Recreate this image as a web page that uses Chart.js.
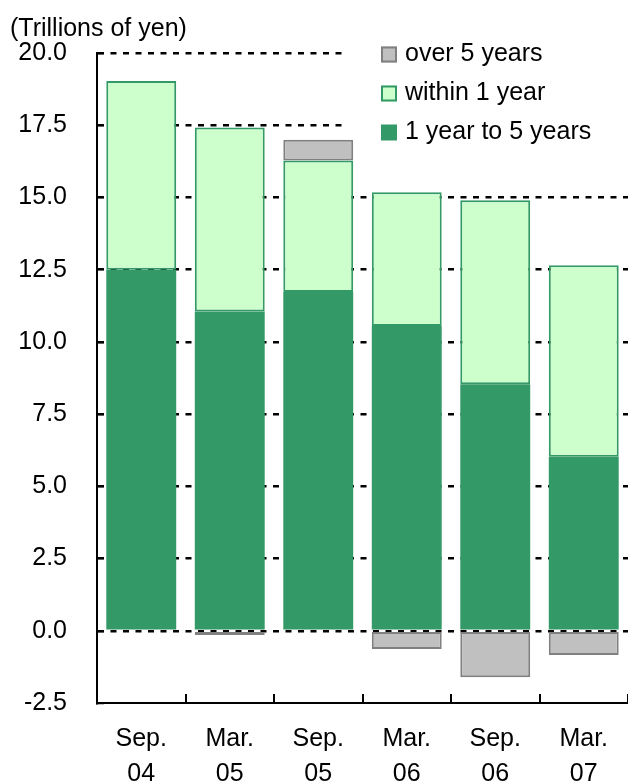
<!DOCTYPE html>
<html>
<head>
<meta charset="utf-8">
<script src="https://cdn.jsdelivr.net/npm/chart.js@4"></script>
<style>
  html, body { margin: 0; padding: 0; background: #fff; }
  canvas { display: block; }
</style>
</head>
<body>
<canvas id="chart" width="628" height="784"></canvas>
<script>
// Categories: half-year periods, two-line labels
const periods = ['Sep.', 'Mar.', 'Sep.', 'Mar.', 'Sep.', 'Mar.'];
const years = ['04', '05', '05', '06', '06', '07'];

// Series values (trillions of yen)
const oneToFiveYears = [12.5, 11.05, 11.73, 10.55, 8.53, 6.02];
const withinOneYear = [6.53, 6.37, 4.55, 4.63, 6.37, 6.63];
const overFiveYears = [0, -0.15, 0.72, -0.63, -1.61, -0.84];

// Y axis tick values
const yTickValues = [-2.5, 0, 2.5, 5, 7.5, 10, 12.5, 15, 17.5, 20];

const labels = periods.map((p, i) => [p, years[i]]);

Chart.defaults.font.family = "'Liberation Sans', Arial, sans-serif";
Chart.defaults.color = '#000';

// Legend drawn inside the plot area, on a white panel, top row last dataset
const insideLegend = {
  id: 'insideLegend',
  beforeDatasetsDraw(chart, args, o) {
    const { ctx, chartArea } = chart;
    ctx.save();
    ctx.fillStyle = '#fff';
    ctx.fillRect(chartArea.left + o.panelLeft, chartArea.top + o.panelTop,
      chartArea.right - chartArea.left - o.panelLeft, o.panelHeight);
    ctx.restore();
  },
  afterDraw(chart, args, o) {
    const { ctx, chartArea } = chart;
    const datasets = chart.data.datasets.slice().reverse();
    const x = chartArea.left + o.left;
    ctx.save();
    ctx.font = o.fontSize + 'px ' + Chart.defaults.font.family;
    ctx.textBaseline = 'middle';
    ctx.textAlign = 'left';
    datasets.forEach((ds, row) => {
      const cy = chartArea.top + o.top + row * o.rowGap;
      const b = o.box;
      ctx.fillStyle = ds.backgroundColor;
      ctx.fillRect(x, cy - b / 2, b, b);
      if (ds.borderWidth) {
        ctx.lineWidth = 2;
        ctx.strokeStyle = ds.borderColor;
        ctx.strokeRect(x + 1, cy - b / 2 + 1, b - 2, b - 2);
      }
      ctx.fillStyle = '#000';
      ctx.fillText(ds.label, x + b + o.textGap, cy);
    });
    ctx.restore();
  }
};

new Chart(document.getElementById('chart'), {
  type: 'bar',
  data: {
    labels: labels,
    datasets: [
      {
        label: '1 year to 5 years',
        data: oneToFiveYears,
        backgroundColor: '#339966',
        borderColor: '#339966',
        borderWidth: 0,
        borderSkipped: false
      },
      {
        label: 'within 1 year',
        data: withinOneYear,
        backgroundColor: '#CCFFCC',
        borderColor: '#339966',
        borderWidth: 2,
        borderSkipped: false
      },
      {
        label: 'over 5 years',
        data: overFiveYears,
        backgroundColor: '#C0C0C0',
        borderColor: '#808080',
        borderWidth: 2,
        borderSkipped: false
      }
    ]
  },
  options: {
    responsive: false,
    animation: false,
    devicePixelRatio: 1,
    barPercentage: 0.79,
    categoryPercentage: 1.0,
    layout: { padding: { top: 14, left: 10, right: 0, bottom: 0 } },
    plugins: {
      legend: { display: false },
      tooltip: { enabled: false },
      title: {
        display: true,
        text: '(Trillions of yen)',
        align: 'start',
        color: '#000',
        font: { size: 25, weight: 'normal', lineHeight: 1.2 },
        padding: { top: 0, bottom: 9 }
      },
      insideLegend: {
        left: 284, top: 1.5, rowGap: 39, box: 16, textGap: 8, fontSize: 25,
        panelLeft: 247, panelTop: -13, panelHeight: 96
      }
    },
    scales: {
      x: {
        stacked: true,
        offset: true,
        afterFit: s => {
          s.height = 81;
          s.paddingLeft = 0;
          s.paddingRight = 0;
        },
        grid: {
          display: true,
          drawOnChartArea: false,
          drawTicks: true,
          tickLength: -9,
          offset: true,
          color: '#000',
          lineWidth: 2
        },
        border: { display: true, color: '#000', width: 2 },
        ticks: {
          color: '#000',
          font: { size: 25, lineHeight: 1.4 },
          padding: 28,
          maxRotation: 0,
          autoSkip: false
        }
      },
      y: {
        stacked: true,
        min: -2.5,
        max: 20,
        afterBuildTicks: s => { s.ticks = yTickValues.map(v => ({ value: v })); },
        afterFit: s => { s.width = 87; },
        grid: {
          // the bottom line is the solid x axis, so no dashed line there
          color: c => (c.index === 0 ? 'rgba(0,0,0,0)' : '#000'),
          lineWidth: 2.5,
          drawTicks: true,
          tickLength: -7,
          tickWidth: 2,
          tickColor: '#000'
        },
        border: { display: true, color: '#000', width: 2, dash: [6, 6.5] },
        ticks: {
          color: '#000',
          font: { size: 25 },
          padding: 37,
          callback: v => Number(v).toFixed(1)
        }
      }
    }
  },
  plugins: [insideLegend]
});
</script>
</body>
</html>
